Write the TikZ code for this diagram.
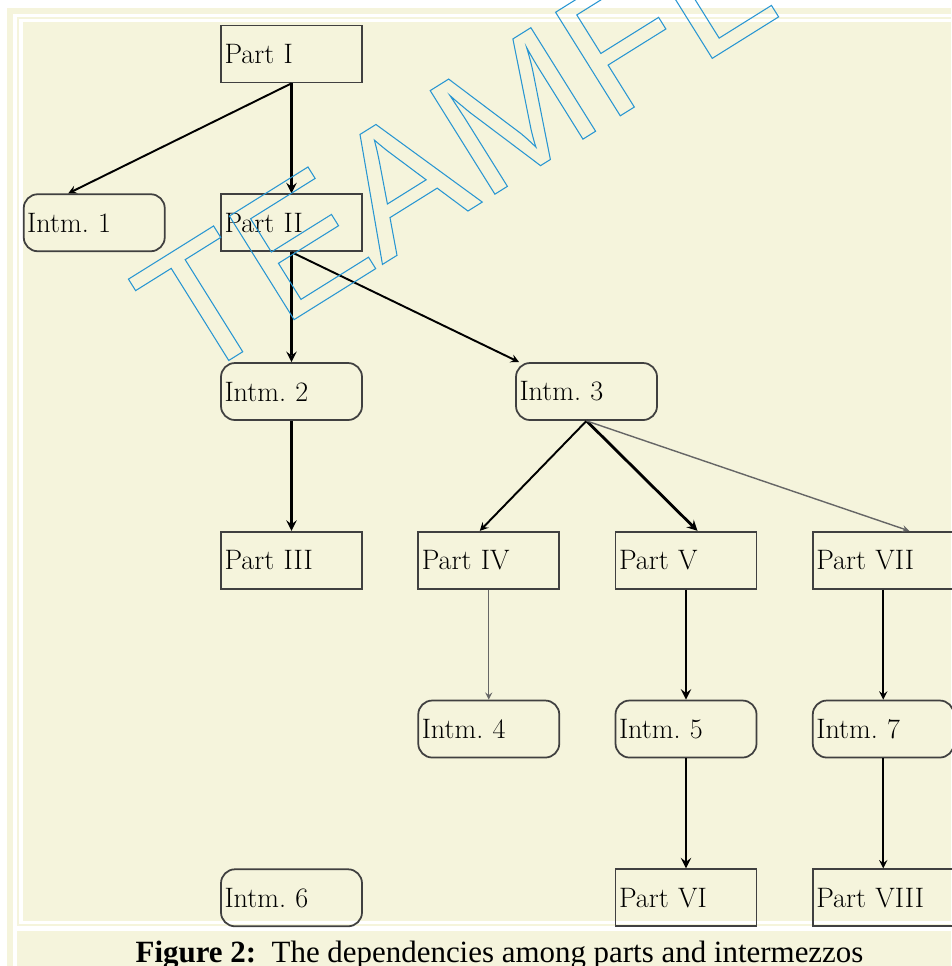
\documentclass[tikz,border=0pt]{standalone}
\usepackage{fontspec}
\newfontfamily\capfont{Liberation Serif}
\newfontfamily\wmfont{Liberation Sans}
\usetikzlibrary{positioning, arrows}
\definecolor{paper}{RGB}{245,244,220}
\definecolor{wmblue}{RGB}{40,150,210}
\tikzstyle{prt} = [rectangle, minimum width=2.82cm, minimum height=1.14cm, text width=2.68cm, align=left, inner xsep=0.07cm, draw=black!75, line width=1pt, font=\fontsize{16}{18}\selectfont]
\tikzstyle{itm} = [prt, rounded corners=0.28cm]
\tikzstyle{arrow} = [line width=1.1pt,->,>=stealth]
\tikzstyle{arrowb} = [arrow, line width=1.6pt]
\tikzstyle{arrowt} = [arrow, line width=0.8pt, draw=black!60]

\begin{document}
\begin{tikzpicture}[node distance=2.2cm and 1.09cm]
% Drawing the frame
\useasboundingbox (0,0) rectangle (19.02,-19.32);
\fill[paper] (0.14,-0.16) rectangle (19.02,-19.32);
\fill[white] (0.25,-0.28) rectangle (19.02,-19.32);
\fill[paper] (0.34,-0.34) rectangle (19.02,-18.51);
\fill[white] (0.38,-0.39) rectangle (19.02,-18.47);
\fill[paper] (0.45,-0.45) rectangle (19.02,-18.41);
\fill[paper] (0.34,-18.61) rectangle (19.02,-19.32);

% Drawing nodes
\node (part1) [prt] at (5.83,-1.08) {Part I};
\node (part2) [prt, below=of part1] {Part II};
\node (intm1) [itm, left=of part2] {Intm.\ 1};
\node (intm2) [itm, below=of part2] {Intm.\ 2};
\node (part3) [prt, below=of intm2] {Part III};
\node (part4) [prt, right=of part3] {Part IV};
\node (part5) [prt, right=of part4] {Part V};
\node (part7) [prt, right=of part5] {Part VII};
\node (intm3) [itm, above=of part4, xshift=1.955cm] {Intm.\ 3};
\node (intm4) [itm, below=of part4] {Intm.\ 4};
\node (intm5) [itm, below=of part5] {Intm.\ 5};
\node (intm7) [itm, below=of part7] {Intm.\ 7};
\node (part6) [prt, below=of intm5] {Part VI};
\node (part8) [prt, below=of intm7] {Part VIII};
\node (intm6) [itm] at (part3 |- part6) {Intm.\ 6};

% Drawing arrows
\draw [arrow] (part1.south) -- ([xshift=-0.52cm]intm1.north);
\draw [arrowb] (part1) -- (part2);
\draw [arrowb] (part2) -- (intm2);
\draw [arrow] (part2.south) -- ([xshift=0.08cm]intm3.north west);
\draw [arrowb] (intm2) -- (part3);
\draw [arrow] (intm3.south) -- ([xshift=-0.18cm]part4.north);
\draw [arrowb] (intm3.south) -- ([xshift=0.23cm]part5.north);
\draw [arrowt] (intm3.south) -- ([xshift=0.52cm]part7.north);
\draw [arrowt] (part4) -- (intm4);
\draw [arrowb] (part5) -- (intm5);
\draw [arrow] (part7) -- (intm7);
\draw [arrowb] (intm5) -- (part6);
\draw [arrow] (intm7) -- (part8);

% Caption and watermark
\node (caption) [anchor=base, font=\capfont\fontsize{17.6}{20}\selectfont] at (9.99,-19.24) {\textbf{Figure 2:}\ \ The dependencies among parts and intermezzos};
\node (mark) [rotate=32, anchor=base west, inner sep=0pt, text=wmblue, font=\wmfont\fontsize{101}{101}\selectfont] at (3.79,-7.7) {\special{pdf:literal direct 1 Tr 0.6 w}TEAMFLY\special{pdf:literal direct 0 Tr}};
\end{tikzpicture}
\end{document}
